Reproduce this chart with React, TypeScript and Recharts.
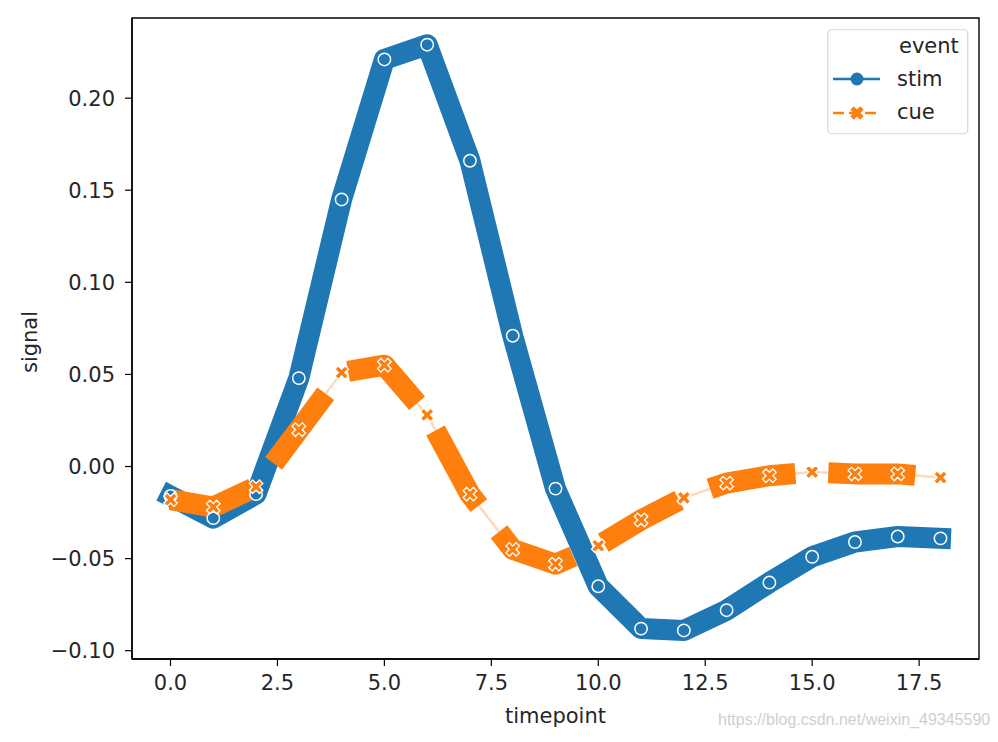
import React from "react";
import {
  LineChart,
  Line,
  XAxis,
  YAxis,
  Legend,
  ReferenceArea,
} from "recharts";

// ── data (seaborn fmri-style means) ────────────────────────────────────────
const timepoints = [0, 1, 2, 3, 4, 5, 6, 7, 8, 9, 10, 11, 12, 13, 14, 15, 16, 17, 18];
const stimSignal = [
  -0.016, -0.028, -0.015, 0.048, 0.145, 0.221, 0.229, 0.166, 0.071, -0.012,
  -0.065, -0.088, -0.089, -0.078, -0.063, -0.049, -0.041, -0.038, -0.039,
];
const cueSignal = [
  -0.018, -0.022, -0.011, 0.02, 0.051, 0.055, 0.028, -0.015, -0.045, -0.053,
  -0.043, -0.029, -0.017, -0.009, -0.005, -0.003, -0.004, -0.004, -0.006,
];
const xTicks = [0, 2.5, 5, 7.5, 10, 12.5, 15, 17.5];
const yTicks = [-0.1, -0.05, 0, 0.05, 0.1, 0.15, 0.2];

const X_DOMAIN: [number, number] = [-0.9, 18.9];
const Y_DOMAIN: [number, number] = [-0.1045, 0.2435];

const BLUE = "#1f77b4";
const ORANGE = "#ff7f0e";
const FONT = "'DejaVu Sans', sans-serif";
const FS = 21;

const rows = timepoints.map((t, i) => ({
  timepoint: t,
  stim: stimSignal[i],
  cue: cueSignal[i],
}));

// matplotlib "X" marker: a plus rotated 45deg
function xPath(cx: number, cy: number, r: number, w: number) {
  const pts = [
    [w, r], [w, w], [r, w], [r, -w], [w, -w], [w, -r],
    [-w, -r], [-w, -w], [-r, -w], [-r, w], [-w, w], [-w, r],
  ];
  const c = Math.SQRT1_2;
  return (
    pts
      .map(([px, py], i) => {
        const rx = (px - py) * c;
        const ry = (px + py) * c;
        return `${i ? "L" : "M"}${(cx + rx).toFixed(2)},${(cy + ry).toFixed(2)}`;
      })
      .join("") + "Z"
  );
}

function CircleDot(props: any) {
  const { cx, cy, index } = props;
  if (cx == null || cy == null) return <g key={index} />;
  return (
    <circle key={index} cx={cx} cy={cy} r={6.2} fill={BLUE} stroke="#fff" strokeWidth={1.5} />
  );
}

function CrossDot(props: any) {
  const { cx, cy, index } = props;
  if (cx == null || cy == null) return <g key={index} />;
  return (
    <path key={index} d={xPath(cx, cy, 7.2, 2.4)} fill={ORANGE} stroke="#fff" strokeWidth={1.3} />
  );
}

function LegendBox() {
  return (
    <svg width={142} height={106} style={{ display: "block", fontFamily: FONT }}>
      <rect x={0.75} y={0.75} width={140} height={104} rx={4} fill="#fff" fillOpacity={0.8} stroke="#d6d6d6" strokeWidth={1.2} />
      <text x={72} y={24} fontSize={FS} fill="#262626">event</text>
      <line x1={6} x2={53} y1={50} y2={50} stroke={BLUE} strokeWidth={2.6} />
      <circle cx={30} cy={50} r={6.5} fill={BLUE} />
      <text x={70} y={57} fontSize={FS} fill="#262626">stim</text>
      <line x1={6} x2={53} y1={84} y2={84} stroke={ORANGE} strokeWidth={2.6} strokeDasharray="11 5" />
      <path d={xPath(30, 84, 7, 2.4)} fill={ORANGE} />
      <text x={70} y={90} fontSize={FS} fill="#262626">cue</text>
    </svg>
  );
}

export default function App() {
  const tickStyle = { fill: "#262626", fontSize: FS, fontFamily: FONT };
  return (
    <div style={{ position: "absolute", left: 0, top: 0, width: 998, height: 742, background: "#fff" }}>
      <LineChart
        width={998}
        height={742}
        data={rows}
        margin={{ top: 18, right: 19, bottom: 0, left: 0 }}
      >
        <XAxis
          dataKey="timepoint"
          type="number"
          domain={X_DOMAIN}
          ticks={xTicks}
          allowDataOverflow
          height={83}
          tickSize={7}
          tickMargin={9}
          tick={tickStyle}
          tickFormatter={(v: number) => v.toFixed(1)}
          axisLine={{ stroke: "#000", strokeWidth: 1.4 }}
          tickLine={{ stroke: "#000", strokeWidth: 1.2 }}
          label={{
            value: "timepoint",
            position: "insideBottom",
            offset: 19,
            style: { fill: "#262626", fontSize: FS, fontFamily: FONT },
          }}
        />
        <YAxis
          type="number"
          domain={Y_DOMAIN}
          ticks={yTicks}
          allowDataOverflow
          width={132}
          tickSize={7}
          tickMargin={10}
          tick={tickStyle}
          tickFormatter={(v: number) => v.toFixed(2).replace("-", "\u2212")}
          axisLine={{ stroke: "#000", strokeWidth: 1.4 }}
          tickLine={{ stroke: "#000", strokeWidth: 1.2 }}
          label={{
            content: () => (
              <text
                x={30}
                y={342}
                transform="rotate(-90, 30, 342)"
                textAnchor="middle"
                dominantBaseline="central"
                fill="#262626"
                fontSize={FS}
                style={{ fontFamily: FONT }}
              >
                signal
              </text>
            ),
          }}
        />
        <ReferenceArea
          x1={X_DOMAIN[0]}
          x2={X_DOMAIN[1]}
          y1={Y_DOMAIN[0]}
          y2={Y_DOMAIN[1]}
          fill="none"
          stroke="#000"
          strokeWidth={1.4}
          fillOpacity={0}
          ifOverflow="visible"
        />
        {/* faint guide under the dashed cue line */}
        <Line
          dataKey="cue"
          type="linear"
          stroke="#ffd8b5"
          strokeWidth={2.5}
          dot={false}
          activeDot={false}
          legendType="none"
          isAnimationActive={false}
        />
        <Line
          dataKey="stim"
          name="stim"
          type="linear"
          stroke={BLUE}
          strokeWidth={21}
          strokeLinecap="square"
          strokeLinejoin="round"
          dot={CircleDot}
          activeDot={false}
          isAnimationActive={false}
        />
        <Line
          dataKey="cue"
          name="cue"
          type="linear"
          stroke={ORANGE}
          strokeWidth={21}
          strokeDasharray="87 33"
          strokeLinecap="butt"
          strokeLinejoin="round"
          dot={CrossDot}
          activeDot={false}
          isAnimationActive={false}
        />
        <Legend
          layout="vertical"
          align="center"
          verticalAlign="middle"
          content={() => <LegendBox />}
          wrapperStyle={{ left: 827, top: 29, width: 142, height: 106 }}
        />
      </LineChart>
      <div
        style={{
          position: "absolute",
          left: 718,
          top: 711,
          fontFamily: "'Liberation Sans', sans-serif",
          fontSize: 16,
          color: "#cfcfcf",
          whiteSpace: "nowrap",
        }}
      >
        https://blog.csdn.net/weixin_49345590
      </div>
    </div>
  );
}
